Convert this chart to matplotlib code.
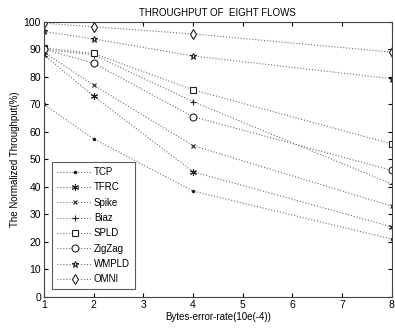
import matplotlib
matplotlib.use("Agg")
import matplotlib.pyplot as plt

plt.rcParams['font.family'] = ['Liberation Sans', 'DejaVu Sans']

# bytes error rate (10e-4)
x = [1, 2, 4, 8]

tcp = [70, 57.5, 38.5, 21]
tfrc = [88, 73, 45.5, 25.5]
spike = [89, 77, 55, 33]
biaz = [90, 88, 71, 41]
spld = [90.5, 88.5, 75.3, 55.6]
zigzag = [90, 85, 65.5, 46]
wmpld = [96.5, 93.8, 87.6, 79.3]
omni = [99.5, 98.2, 95.6, 89]

names = ['TCP', 'TFRC', 'Spike', 'Biaz', 'SPLD', 'ZigZag', 'WMPLD', 'OMNI']
series = [tcp, tfrc, spike, biaz, spld, zigzag, wmpld, omni]
markers = ['.', (6, 2, 0), 'x', '+', 's', 'o', '*', 'd']
msizes = [3.5, 5, 3.5, 5, 5, 5, 5, 5]

fig = plt.figure(figsize=(3.95, 3.31), dpi=100)
ax = fig.add_axes([0.111, 0.103, 0.881, 0.831])

for name, y, m, ms in zip(names, series, markers, msizes):
    ax.plot(x, y, linestyle=':', color='#707070', linewidth=0.8,
            marker=m, markersize=ms, markerfacecolor='white' if m in ('s', 'o', '*', 'd') else 'black',
            markeredgecolor='#222222', markeredgewidth=0.8, label=name)

ax.set_xlim(1, 8)
ax.set_ylim(0, 100)
ax.set_xticks(range(1, 9))
ax.set_yticks(range(0, 101, 10))
ax.tick_params(direction='in', top=True, right=True, labelsize=7.5, length=3, pad=2)
for s in ax.spines.values():
    s.set_color('#444444')
ax.set_title('THROUGHPUT OF  EIGHT FLOWS', fontsize=7, pad=4)
ax.set_xlabel('Bytes-error-rate(10e(-4))', fontsize=7, labelpad=2)
ax.set_ylabel('The Normalized Throughput(%)', fontsize=7, labelpad=3)

leg = ax.legend(loc='lower left', bbox_to_anchor=(0.01, 0.01), fontsize=7,
                fancybox=False, edgecolor='#333333', handlelength=3.6,
                labelspacing=0.55, borderpad=0.5, handletextpad=0.2)
leg.get_frame().set_linewidth(0.8)

fig.savefig('out.png', dpi=100)
